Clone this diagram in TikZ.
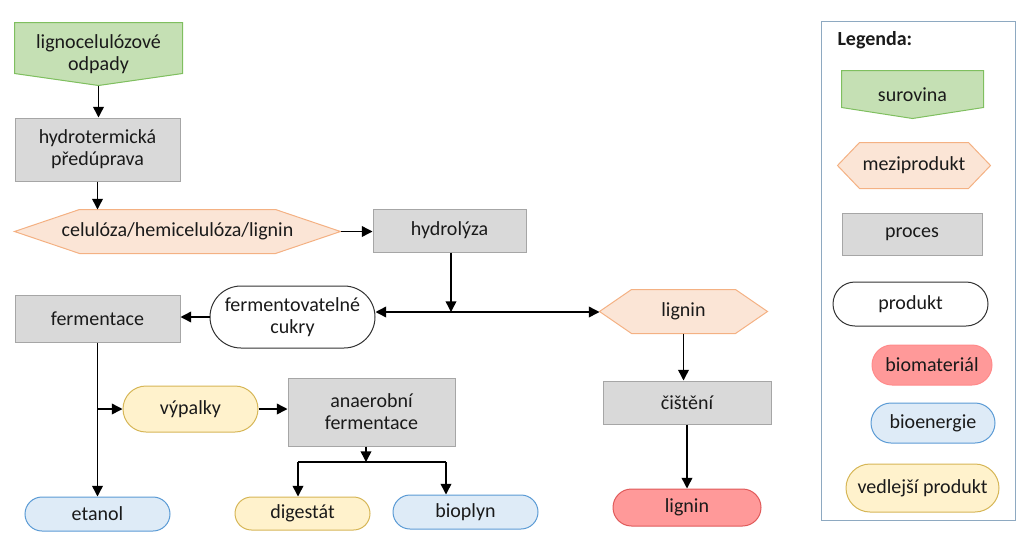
\documentclass[tikz,border=0pt]{standalone}
\usepackage{fontspec}
\setmainfont{Carlito}
\usetikzlibrary{shapes.misc,calc,arrows.meta}
\pgfdeclarelayer{bg}
\pgfsetlayers{bg,main}
\definecolor{grfill}{HTML}{C5E0B4}
\definecolor{grline}{HTML}{7FBF5F}
\definecolor{orfill}{HTML}{FBE5D6}
\definecolor{orline}{HTML}{F4B183}
\definecolor{gyfill}{HTML}{D9D9D9}
\definecolor{gyline}{HTML}{A6A6A6}
\definecolor{blfill}{HTML}{DEEBF7}
\definecolor{blline}{HTML}{5B9BD5}
\definecolor{yefill}{HTML}{FFF2CC}
\definecolor{yeline}{HTML}{D6B656}
\definecolor{rdfill}{HTML}{FF9999}
\definecolor{rdline}{HTML}{E05A5A}
\definecolor{lgline}{HTML}{8EA9C1}
\definecolor{txt}{HTML}{1A1A1A}
\tikzset{
  box/.style={inner sep=0pt, align=center, text=txt, font=\fontsize{15}{16.5}\selectfont, line width=0.75pt},
  proc/.style={box, draw=gyline, fill=gyfill},
  stad/.style={box, rounded rectangle},
  prod/.style={stad, draw=black!80, fill=white},
  bioen/.style={stad, draw=blline, fill=blfill},
  vedl/.style={stad, draw=yeline, fill=yefill},
  biom/.style={stad, draw=rdline, fill=rdfill},
  biomleg/.style={stad, draw=rdfill!90!red, fill=rdfill},
  shp/.style={box},
  hexs/.style={draw=orline, fill=orfill, line width=0.75pt},
  pens/.style={draw=grline, fill=grfill, line width=0.75pt},
  arr/.style={-{Triangle[length=8pt,width=8pt]}, line width=1.1pt},
  arrboth/.style={{Triangle[length=8pt,width=8pt]}-{Triangle[length=8pt,width=8pt]}, line width=1.1pt},
  ln/.style={line width=1.1pt}
}
\newcommand\bx[7]{\node[#1, minimum width={(#5-#3)*0.75pt}, minimum height={(#6-#4)*0.75pt}] (#2) at ({(#3+#5)/2},{(#4+#6)/2}) {#7};}
\newcommand\hexa[3]{\begin{pgfonlayer}{bg}\draw[#3] (#1.west) -- ($(#1.north west)+(#2,0)$) -- ($(#1.north east)+(-#2,0)$) -- (#1.east) -- ($(#1.south east)+(-#2,0)$) -- ($(#1.south west)+(#2,0)$) -- cycle;\end{pgfonlayer}}
\newcommand\penta[3]{\begin{pgfonlayer}{bg}\draw[#3] (#1.north west) -- (#1.north east) -- ($(#1.south east)+(0,-#2)$) -- (#1.south) -- ($(#1.south west)+(0,-#2)$) -- cycle;\end{pgfonlayer}}
\begin{document}
\begin{tikzpicture}[x=0.75pt,y=-0.75pt]
\useasboundingbox (0,0) rectangle (1024,536);
% main flow
\bx{shp}{sur}{15}{23}{182}{85}{lignocelulózové\\odpady}
\penta{sur}{12}{pens}
\bx{proc}{hyd}{15}{118}{180}{181}{hydrotermická\\předúprava}
\bx{shp}{cel}{15}{210}{340}{253}{celulóza/hemicelulóza/lignin}
\hexa{cel}{65}{hexs}
\bx{proc}{hydr}{373}{209}{526}{252}{hydrolýza}
\bx{prod}{cuk}{210}{286}{375}{348}{fermentovatelné\\cukry}
\bx{proc}{fer}{15}{295}{180}{342}{fermentace}
\bx{shp}{lig}{600}{290}{767}{333}{lignin}
\hexa{lig}{32}{hexs}
\bx{proc}{cis}{603}{381}{771}{424}{čištění}
\bx{biom}{ligb}{613}{489}{761}{526}{lignin}
\bx{vedl}{vyp}{123}{386}{258}{432}{výpalky}
\bx{proc}{ana}{288}{378}{455}{446}{anaerobní\\fermentace}
\bx{bioen}{eta}{25}{497}{170}{531}{etanol}
\bx{vedl}{dig}{235}{497}{370}{530}{digestát}
\bx{bioen}{bio}{393}{495}{538}{529}{bioplyn}
% connectors
\draw[arr] (sur.south) -- (sur.south |- hyd.north);
\draw[arr] (hyd.south) -- (hyd.south |- cel.north);
\draw[arr] (cel.east) -- (cel.east -| hydr.west);
\coordinate (j1) at (451,312);
\draw[arr] (hydr.south -| j1) -- (j1);
\draw[arrboth] (cuk.east |- j1) -- (lig.west |- j1);
\draw[arr] (cuk.west) -- (cuk.west -| fer.east);
\draw[arr] (fer.south) -- (fer.south |- eta.north);
\draw[arr] (fer.south |- vyp.west) -- (vyp.west);
\draw[arr] (vyp.east) -- (vyp.east -| ana.west);
\coordinate (j2) at (366,462);
\coordinate (jl) at (298,462);
\coordinate (jr) at (446,462);
\draw[arr] (ana.south -| j2) -- (j2);
\draw[ln] (jl) -- (jr);
\draw[arr] (jl) -- (jl |- dig.north);
\draw[arr] (jr) -- (jr |- bio.north);
\draw[arr] (lig.south) -- (lig.south |- cis.north);
\draw[arr] (cis.south) -- (cis.south |- ligb.north);
% legend
\bx{box}{leg}{822}{22}{1015}{520}{}
\draw[draw=lgline, line width=1.1pt] (leg.north west) rectangle (leg.south east);
\node[box, anchor=west, font=\fontsize{15}{16.5}\selectfont\bfseries] (legt) at (837,40) {Legenda:};
\bx{shp}{lsur}{842}{71}{983}{118}{surovina}
\penta{lsur}{11}{pens}
\bx{shp}{lmez}{838}{143}{990}{188}{meziprodukt}
\hexa{lmez}{22}{hexs}
\bx{proc}{lpro}{842}{213}{982}{255}{proces}
\bx{prod}{lprd}{833}{282}{988}{326}{produkt}
\bx{biomleg}{lbm}{872}{345}{992}{385}{biomateriál}
\bx{bioen}{lbe}{871}{403}{995}{443}{bioenergie}
\bx{vedl}{lvp}{846}{464}{999}{512}{vedlejší produkt}
\end{tikzpicture}
\end{document}
